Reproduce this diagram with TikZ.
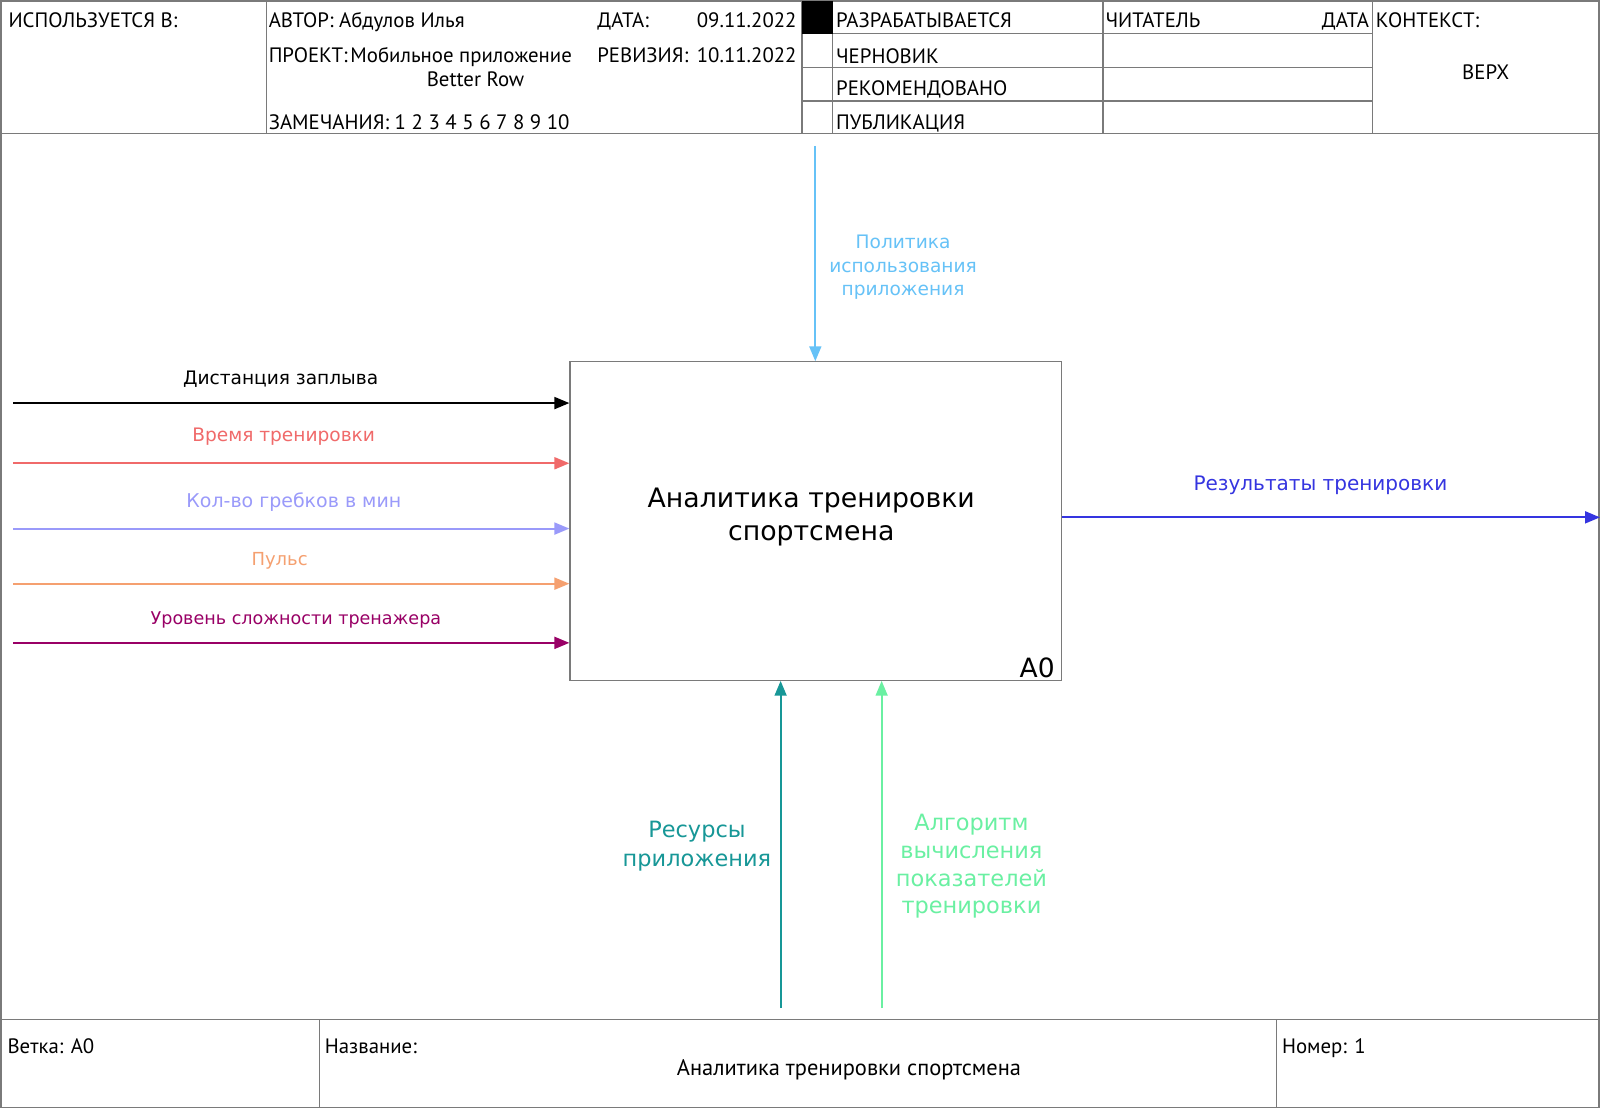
\documentclass[tikz,border=0pt]{standalone}
\usepackage{fontspec}
\setmainfont{DejaVu Sans}
\newfontfamily\hdrfont{PT Sans}
\usetikzlibrary{arrows.meta}
\definecolor{framegray}{HTML}{7A7A7A}
\definecolor{cred}{HTML}{F06A6A}
\definecolor{clav}{HTML}{9A9AFA}
\definecolor{corange}{HTML}{F5A070}
\definecolor{cpurple}{HTML}{990066}
\definecolor{cblue}{HTML}{3535E0}
\definecolor{clight}{HTML}{66C2F7}
\definecolor{cteal}{HTML}{179797}
\definecolor{cgreen}{HTML}{6AF0A2}
\begin{document}
\begin{tikzpicture}[x=0.5pt,y=-0.5pt,
  frame/.style={draw=framegray,line width=0.6pt},
  hdr/.style={font=\hdrfont\fontsize{10.2}{12}\selectfont,inner sep=0pt,anchor=base west},
  arr/.style={line width=1.05pt,-{Triangle[length=7.3pt,width=5.8pt]}},
  lbl/.style={font=\fontsize{8.8}{10}\selectfont,inner sep=0pt,align=center},
  ]
\useasboundingbox (0,0) rectangle (1568,1086);
\fill[white] (0,0) rectangle (1568,1086);
% frame
\draw[frame] (1,1) rectangle (1567,1085);
\draw[frame] (1,131) -- (1567,131);
\draw[frame] (1,999) -- (1567,999);
\draw[frame] (261,1) -- (261,131);
\draw[frame] (786,1) -- (786,131);
\draw[frame] (816,1) -- (816,131);
\draw[frame] (1081,1) -- (1081,131);
\draw[frame] (1345,1) -- (1345,131);
\draw[frame] (786,33) -- (1345,33);
\draw[frame] (786,66) -- (1345,66);
\draw[frame] (786,99) -- (1345,99);
\fill[black] (786,1) rectangle (816,33);
\draw[frame] (313,999) -- (313,1085);
\draw[frame] (1251,999) -- (1251,1085);
% header texts
\node[hdr] (h1) at (8,27) {ИСПОЛЬЗУЕТСЯ В:};
\node[hdr] (h2) at (263,27) {АВТОР: Абдулов Илья};
\node[hdr] (h3) at (585,27) {ДАТА:};
\node[hdr,anchor=base east] (h4) at (781,27) {09.11.2022};
\node[hdr] (h5) at (263,61) {ПРОЕКТ:};
\node[hdr] (h6) at (343,61) {Мобильное приложение};
\node[hdr,anchor=base] (h7) at (466,85) {Better Row};
\node[hdr] (h8) at (585,61) {РЕВИЗИЯ:};
\node[hdr,anchor=base east] (h9) at (781,61) {10.11.2022};
\node[hdr] (h10) at (263,127) {ЗАМЕЧАНИЯ: 1 2 3 4 5 6 7 8 9 10};
\node[hdr] (h11) at (819,27) {РАЗРАБАТЫВАЕТСЯ};
\node[hdr] (h12) at (819,62) {ЧЕРНОВИК};
\node[hdr] (h13) at (819,94) {РЕКОМЕНДОВАНО};
\node[hdr] (h14) at (819,127) {ПУБЛИКАЦИЯ};
\node[hdr] (h15) at (1083,27) {ЧИТАТЕЛЬ};
\node[hdr,anchor=base east] (h16) at (1342,27) {ДАТА};
\node[hdr] (h17) at (1348,27) {КОНТЕКСТ:};
\node[hdr,anchor=base] (h18) at (1456,78) {ВЕРХ};
% footer texts
\node[hdr] (f1) at (7,1032) {Ветка: A0};
\node[hdr] (f2) at (318,1032) {Название:};
\node[hdr,anchor=base,font=\hdrfont\fontsize{11}{13}\selectfont] (f3) at (832,1054) {Аналитика тренировки спортсмена};
\node[hdr] (f4) at (1256,1032) {Номер: 1};
% main box
\node[draw=framegray,line width=0.6pt,minimum width=241pt,minimum height=156pt,inner sep=0pt,anchor=north west] (box) at (558,354) {};
\node[lbl,font=\fontsize{13.1}{16}\selectfont] (title) at (795,507) {Аналитика тренировки\\спортсмена};
\node[inner sep=0pt,anchor=south east,font=\fontsize{13}{15}\selectfont] (a0) at (1034,665) {A0};
% inputs
\coordinate (i1) at (13,395);
\coordinate (i2) at (13,454);
\coordinate (i3) at (13,518);
\coordinate (i4) at (13,572);
\coordinate (i5) at (13,630);
\draw[arr,black] (i1) -- (i1 -| box.west);
\draw[arr,cred] (i2) -- (i2 -| box.west);
\draw[arr,clav] (i3) -- (i3 -| box.west);
\draw[arr,corange] (i4) -- (i4 -| box.west);
\draw[arr,cpurple] (i5) -- (i5 -| box.west);
\node[lbl,text=black,font=\fontsize{9.1}{10}\selectfont] (l1) at (275,372) {Дистанция заплыва};
\node[lbl,text=cred,font=\fontsize{9.1}{10}\selectfont] (l2) at (278,428) {Время тренировки};
\node[lbl,text=clav,font=\fontsize{9.3}{10}\selectfont] (l3) at (288,492) {Кол-во гребков в мин};
\node[lbl,text=corange] (l4) at (274,550) {Пульс};
\node[lbl,text=cpurple,font=\fontsize{8.6}{10}\selectfont] (l5) at (290,608) {Уровень сложности тренажера};
% output
\coordinate (o1) at (1568,507);
\draw[arr,cblue] (o1 -| box.east) -- (o1);
\node[lbl,text=cblue,font=\fontsize{9.8}{11}\selectfont] (lo) at (1294,476) {Результаты тренировки};
% control
\coordinate (c1) at (799,143);
\draw[arr,clight] (c1) -- (c1 |- box.north);
\node[lbl,text=clight,font=\fontsize{9.1}{11.5}\selectfont] (lc) at (885,262) {Политика\\использования\\приложения};
% mechanisms
\coordinate (m1) at (765,988);
\coordinate (m2) at (864,988);
\draw[arr,cteal] (m1) -- (m1 |- box.south);
\draw[arr,cgreen] (m2) -- (m2 |- box.south);
\node[lbl,text=cteal,font=\fontsize{11}{14}\selectfont] (lm1) at (683,829) {Ресурсы\\приложения};
\node[lbl,text=cgreen,font=\fontsize{11}{13.6}\selectfont] (lm2) at (952,849) {Алгоритм\\вычисления\\показателей\\тренировки};
\end{tikzpicture}
\end{document}
